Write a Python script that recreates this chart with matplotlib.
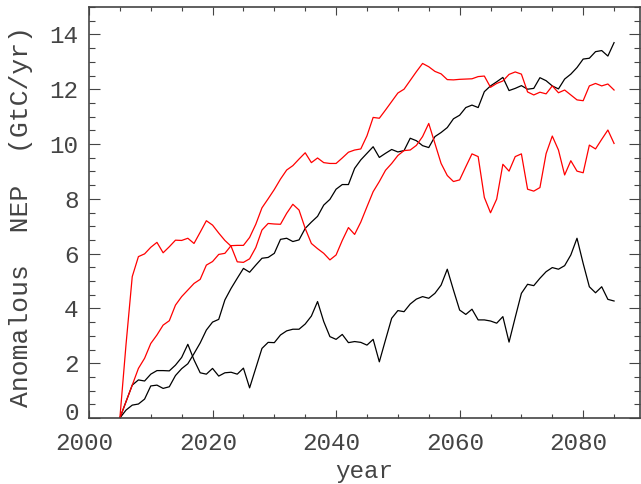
import matplotlib
matplotlib.use("Agg")
import matplotlib.pyplot as plt
import matplotlib.transforms as mtransforms
from matplotlib.ticker import MultipleLocator

# anos e series (GtC/yr)
anos = list(range(2005, 2086))

preto1 = [0, 0.29, 0.47, 0.51, 0.69, 1.17, 1.2, 1.08, 1.14, 1.55,
          1.8, 1.98, 2.35, 2.74, 3.21, 3.5, 3.6, 4.31, 4.73, 5.1,
          5.46, 5.32, 5.58, 5.83, 5.86, 6.01, 6.52, 6.56, 6.44, 6.5,
          6.92, 7.15, 7.36, 7.77, 7.98, 8.35, 8.52, 8.52, 9.11, 9.42,
          9.66, 9.9, 9.51, 9.66, 9.8, 9.71, 9.76, 10.21, 10.12, 9.94,
          9.87, 10.27, 10.42, 10.6, 10.92, 11.05, 11.33, 11.42, 11.33, 11.91,
          12.12, 12.27, 12.43, 11.95, 12.03, 12.13, 12.0, 12.03, 12.42, 12.31,
          12.12, 12.01, 12.37, 12.55, 12.79, 13.1, 13.13, 13.37, 13.41, 13.21,
          13.7]

preto2 = [0, 0.6, 1.2, 1.39, 1.35, 1.6, 1.73, 1.73, 1.72, 1.93,
          2.21, 2.69, 2.12, 1.65, 1.6, 1.81, 1.53, 1.65, 1.67, 1.6,
          1.82, 1.1, 1.82, 2.54, 2.76, 2.75, 3.03, 3.18, 3.24, 3.24,
          3.43, 3.72, 4.25, 3.52, 2.97, 2.87, 3.05, 2.75, 2.79, 2.76,
          2.66, 2.87, 2.05, 2.85, 3.64, 3.92, 3.88, 4.16, 4.34, 4.43,
          4.37, 4.55, 4.85, 5.43, 4.67, 3.94, 3.78, 3.97, 3.58, 3.58,
          3.54, 3.46, 3.7, 2.77, 3.67, 4.55, 4.88, 4.83, 5.1, 5.34,
          5.49, 5.43, 5.56, 5.95, 6.56, 5.64, 4.79, 4.57, 4.79, 4.33,
          4.27]

vermelho1 = [0, 2.7, 5.16, 5.89, 5.99, 6.23, 6.41, 6.03, 6.25, 6.49,
             6.48, 6.56, 6.37, 6.78, 7.2, 7.04, 6.75, 6.48, 6.27, 5.7,
             5.68, 5.81, 6.22, 6.86, 7.1, 7.08, 7.07, 7.47, 7.8, 7.59,
             6.92, 6.37, 6.18, 6.01, 5.77, 5.95, 6.48, 6.95, 6.7, 7.15,
             7.71, 8.26, 8.63, 9.04, 9.29, 9.58, 9.76, 9.78, 9.95, 10.27,
             10.75, 10.02, 9.29, 8.85, 8.63, 8.69, 9.17, 9.64, 9.54, 8.05,
             7.49, 7.99, 9.26, 9.01, 9.54, 9.64, 8.35, 8.28, 8.41, 9.65,
             10.29, 9.78, 8.87, 9.39, 9.01, 8.95, 9.96, 9.82, 10.17, 10.51,
             10.02]

vermelho2 = [0, 0.6, 1.2, 1.81, 2.18, 2.72, 3.03, 3.39, 3.55, 4.12,
             4.43, 4.67, 4.91, 5.06, 5.58, 5.71, 5.97, 6.01, 6.29, 6.3,
             6.3, 6.59, 7.07, 7.67, 8.0, 8.34, 8.72, 9.05, 9.21, 9.45,
             9.68, 9.32, 9.49, 9.32, 9.29, 9.29, 9.49, 9.7, 9.78, 9.82,
             10.3, 10.97, 10.94, 11.24, 11.55, 11.86, 12.0, 12.32, 12.64, 12.94,
             12.82, 12.65, 12.56, 12.35, 12.34, 12.36, 12.37, 12.38, 12.46, 12.48,
             12.07, 12.21, 12.3, 12.54, 12.63, 12.55, 11.9, 11.79, 11.89, 11.83,
             12.12, 11.87, 11.97, 11.79, 11.61, 11.58, 12.12, 12.21, 12.12, 12.19,
             11.97]

plt.rcParams['font.family'] = ['Liberation Mono', 'DejaVu Sans Mono']
cor_texto = '#444444'
cor_eixo = '#444444'

fig = plt.figure(figsize=(6.41, 4.84), dpi=100)
ax = fig.add_axes([89 / 641, 1 - 418 / 484, 551 / 641, 411 / 484])

ax.plot(anos, preto1, color='black', lw=0.9)
ax.plot(anos, preto2, color='black', lw=0.9)
ax.plot(anos, vermelho1, color='red', lw=0.9)
ax.plot(anos, vermelho2, color='red', lw=0.9)

ax.set_xlim(2000, 2089.2)
ax.set_ylim(0, 15)
ax.set_xticks([2000, 2020, 2040, 2060, 2080])
ax.set_yticks(list(range(0, 15, 2)))
ax.xaxis.set_minor_locator(MultipleLocator(5))
ax.yaxis.set_minor_locator(MultipleLocator(0.5))

for s in ax.spines.values():
    s.set_color(cor_eixo)
    s.set_linewidth(1.2)

ax.tick_params(axis='both', which='both', direction='in', top=True, right=True,
               color=cor_eixo, width=0.8, labelcolor=cor_texto, labelsize=17.5)
ax.tick_params(axis='x', which='major', length=5.8, pad=10)
ax.tick_params(axis='x', which='minor', length=2.9)
ax.tick_params(axis='y', which='major', length=8, pad=7.5)
ax.tick_params(axis='y', which='minor', length=4)

ax.set_xlabel('year', fontsize=17.5, color=cor_texto, labelpad=4)
ax.set_ylabel('Anomalous  NEP  (GtC/yr)', fontsize=19, color=cor_texto)
ax.yaxis.set_label_coords(-0.102, 0.491)

# rotulos do eixo x um pouco a esquerda, e o zero um pouco acima, como no original
fig.canvas.draw()
desloc = mtransforms.ScaledTranslation(-4.5 / 100, 0, fig.dpi_scale_trans)
for t in ax.xaxis.get_major_ticks():
    t.label1.set_transform(t.label1.get_transform() + desloc)
sobe = mtransforms.ScaledTranslation(0, 7 / 100, fig.dpi_scale_trans)
for t in ax.yaxis.get_major_ticks():
    if t.get_loc() == 0:
        t.label1.set_transform(t.label1.get_transform() + sobe)

fig.savefig('out.png', dpi=100)
